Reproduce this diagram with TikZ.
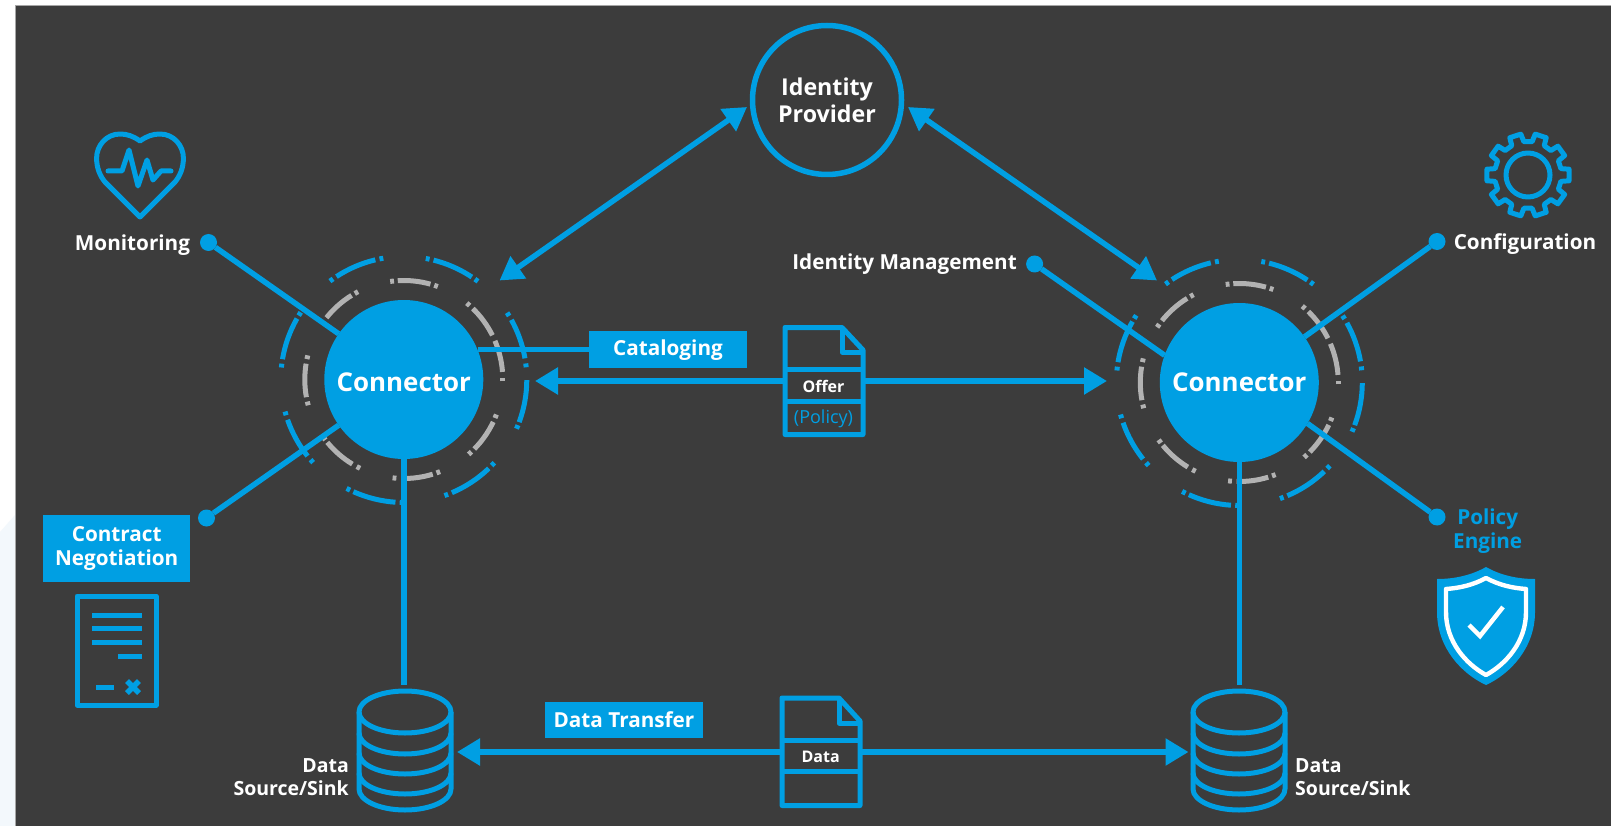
\documentclass[tikz,border=0pt]{standalone}
\usepackage{fontspec}
\setmainfont{Open Sans}
\usetikzlibrary{arrows.meta}
\definecolor{bgdark}{HTML}{3C3C3C}
\definecolor{idsblue}{HTML}{009FE3}
\definecolor{ringgray}{HTML}{B2B2B2}
\definecolor{palebg}{HTML}{F3F8FC}
\tikzset{
  wire/.style={draw=idsblue,line width=5.5pt},
  thin wire/.style={draw=idsblue,line width=5pt,line join=round},
  bothtips/.style={wire,{Triangle[length=23pt,width=26pt]}-{Triangle[length=23pt,width=26pt]}},
  conn/.style={circle,fill=idsblue,minimum size=159pt,inner sep=0pt,outer sep=0pt,text=white,font=\fontsize{25.9}{30}\selectfont\bfseries},
  dotnode/.style={circle,fill=idsblue,minimum size=17pt,inner sep=0pt,outer sep=0pt},
  lbl/.style={text=white,inner sep=0pt,align=center,font=\fontsize{20.7}{24.5}\selectfont\bfseries},
  dblbl/.style={text=white,inner sep=0pt,font=\fontsize{19.5}{23.5}\selectfont\bfseries},
  bluelbl/.style={lbl,text=idsblue},
  tag/.style={fill=idsblue,inner sep=0pt,outer sep=0pt,text=white,align=center,font=\fontsize{20.7}{24.5}\selectfont\bfseries},
  doclbl/.style={text=white,inner sep=0pt,font=\fontsize{16}{20}\selectfont\bfseries},
  arcb/.style={draw=idsblue,line width=5pt},
  arcg/.style={draw=ringgray,line width=5pt},
  docshape/.style={draw=idsblue,line width=5pt,line join=round,fill=bgdark},
}
\newcommand{\ringarcs}[1]{%
  \foreach \a/\b in {103.4/123.2,56.4/76,9.9/29,-20.3/-0.3,-67/-46.3,-114.2/-93.9,-160.9/-141.5,150.3/170.5}
    {\draw[arcb] ([shift={(\a:123pt)}]#1.center) arc[start angle=\a,end angle=\b,radius=123pt];}
  \foreach \t in {100.5,126,78.8,53.8,32,6.6,-22.7,-43.5,-69.8,-91,-116.8,-138.4,-164,173.5,147.8}
    {\draw[arcb] ([shift={({\t-0.9}:123pt)}]#1.center) arc[start angle=\t-0.9,end angle=\t+0.9,radius=123pt];}
  \foreach \a/\b in {74.4/93.5,26.5/45.8,4.4/23,-44.6/-25.4,-91.5/-73,-140.6/-121.3,170.8/190.3,121.8/141.4}
    {\draw[arcg] ([shift={(\a:99pt)}]#1.center) arc[start angle=\a,end angle=\b,radius=99pt];}
  \foreach \t in {96.8,71,49.4,0,-21.8,-48,-69.6,-95.4,-117.3,-143.5,-166,167,118.6,145}
    {\draw[arcg] ([shift={({\t-1.1}:99pt)}]#1.center) arc[start angle=\t-1.1,end angle=\t+1.1,radius=99pt];}
}
\newcommand{\database}[1]{%
  \begin{scope}[shift={(#1,0)}]
    \draw[thin wire] (0,712) ellipse[x radius=46pt,y radius=21pt];
    \draw[thin wire] (-46,712) -- (-46,789) arc[start angle=180,end angle=360,x radius=46pt,y radius=21pt] -- (46,712);
    \draw[thin wire] (-46,733) arc[start angle=180,end angle=360,x radius=46pt,y radius=21pt];
    \draw[thin wire] (-46,753) arc[start angle=180,end angle=360,x radius=46pt,y radius=21pt];
    \draw[thin wire] (-46,773) arc[start angle=180,end angle=360,x radius=46pt,y radius=21pt];
  \end{scope}
}
\begin{document}
\begin{tikzpicture}[x=1pt,y=-1pt]
\useasboundingbox (0,0) rectangle (1611,826);
\fill[white] (0,0) rectangle (1611,826);
\fill[palebg] (0,532) -- (15,515) -- (15,826) -- (0,826) -- cycle;
\fill[bgdark] (15.5,5) rectangle (1611,826);
\draw[draw=gray!70,line width=.8pt] (15.5,826) -- (15.5,5) -- (1611,5);

% main nodes
\node[circle,draw=idsblue,line width=5.5pt,minimum size=149pt,inner sep=0pt,align=center,text=white,font=\fontsize{23.2}{27}\selectfont\bfseries] (idp) at (827,100) {\raisebox{-1pt}{Identity}\\\raisebox{-1pt}{Provider}};
\node[conn,text height=23pt,text depth=0pt] (c1) at (403.8,379.5) {Connector};
\node[conn,text height=17pt,text depth=0pt] (c2) at (1239.3,382.5) {Connector};
\ringarcs{c1}
\ringarcs{c2}

% dots and labels
\node[dotnode] (dmon) at (208.5,242.5) {};
\node[lbl] (lmon) at (132.5,245.5) {Monitoring};
\node[dotnode] (dneg) at (206.5,518) {};
\node[tag,minimum width=147pt,minimum height=67pt] (lneg) at (116.7,548.5) {Contract\\Negotiation};
\node[dotnode] (dim) at (1034.6,264) {};
\node[lbl] (lim) at (904.6,264) {Identity Management};
\node[dotnode] (dcfg) at (1437,241.5) {};
\node[lbl] (lcfg) at (1525,244.5) {Configuration};
\node[dotnode] (dpol) at (1437,517) {};
\node[bluelbl] (lpol) at (1487.7,531) {Policy\\Engine};
\node[tag,minimum width=158pt,minimum height=37pt,text height=17.7pt,text depth=5pt] (lcat) at (668,349.5) {Cataloging};
\node[tag,minimum width=158.5pt,minimum height=36pt] (ltr) at (624,720) {Data Transfer};

% connector lines
\draw[wire] (dmon) -- (c1);
\draw[wire] (dneg) -- (c1);
\draw[wire] (c1.22.5) -- (lcat.west |- c1.22.5);
\draw[wire] (dim) -- (c2.160.6);
\draw[wire] (dcfg) -- (c2.35);
\draw[wire] (dpol) -- (c2.-31);

% database links
\coordinate (db1top) at (403.8,685);
\coordinate (db2top) at (1239.3,685);
\draw[wire] (c1.south) -- (db1top);
\draw[wire] (c2.south) -- (db2top);

% arrows
\coordinate (idpL) at (747,107);
\coordinate (idpR) at (908,107);
\coordinate (c1R) at (499.5,280.5);
\coordinate (c2L) at (1157,280.5);
\draw[bothtips] (c1R) -- (idpL);
\draw[bothtips] (idpR) -- (c2L);
\coordinate (offL) at (535,381);
\coordinate (offR) at (1107,381);
\draw[bothtips] (offL) -- (offR);
\coordinate (datL) at (457,752);
\coordinate (datR) at (1188.5,752);
\draw[bothtips] (datL) -- (datR);

% offer document
\draw[docshape] (785,327.5) -- (842,327.5) -- (863,350) -- (863,434.5) -- (785,434.5) -- cycle;
\draw[thin wire] (842,327.5) -- (842,352) -- (863,352);
\draw[thin wire] (785,369) -- (863,369);
\draw[thin wire] (785,401) -- (863,401);
\node[doclbl] (toffer) at (823.5,386.5) {Offer};
\node[text=idsblue,inner sep=0pt,font=\fontsize{18}{22}\selectfont] (tpolicy) at (823.5,419) {(Policy)};

% data document
\draw[docshape] (782,698) -- (839,698) -- (860,721) -- (860,805.5) -- (782,805.5) -- cycle;
\draw[thin wire] (839,698) -- (839,723) -- (860,723);
\draw[thin wire] (782,740) -- (860,740);
\draw[thin wire] (782,771) -- (860,771);
\node[doclbl] (tdata) at (820.7,757) {Data};

% databases
\database{405}
\database{1239}
\node[dblbl,align=right,anchor=east] (ldb1) at (349,777) {Data\\Source/Sink};
\node[dblbl,align=left,anchor=west] (ldb2) at (1295,777) {Data\\Source/Sink};

% contract icon
\draw[thin wire] (77,596) rectangle (156,705);
\foreach \yy in {615,628,642} {\draw[thin wire] (92,\yy) -- (142,\yy);}
\draw[thin wire] (118,656) -- (142,656);
\draw[thin wire] (96,687) -- (114,687);
\draw[draw=idsblue,line width=5.5pt] (127,681) -- (139,693) (127,693) -- (139,681);

% heart icon
\draw[thin wire] (140,141) .. controls (133,136) and (127,134) .. (120,134) .. controls (106,134) and (96.6,146) .. (96.6,158) .. controls (96.6,168) and (100,176) .. (105,182) -- (140,217) -- (175,182) .. controls (180,176) and (183.4,168) .. (183.4,158) .. controls (183.4,146) and (174,134) .. (160,134) .. controls (153,134) and (147,136) .. (140,141) -- cycle;
\draw[thin wire,line cap=round] (108,171) -- (122,171) -- (129,150) -- (138,186) -- (147,160) -- (153,180) -- (161,171) -- (171,171);

% gear icon
\begin{scope}[shift={(1528,175)}]
  \draw[thin wire] (72-11:33.5pt) \foreach \k in {0,...,9} { -- ({72+36*\k-11}:33.5pt) -- ({72+36*\k-8}:41.5pt) -- ({72+36*\k+8}:41.5pt) -- ({72+36*\k+11}:33.5pt)} -- cycle;
  \draw[thin wire] (0,0) circle[radius=22pt];
\end{scope}

% shield icon
\fill[idsblue] (1486,567) .. controls (1472,575) and (1455,579) .. (1437,579) -- (1437,612) .. controls (1437,648) and (1462,674) .. (1486,685) .. controls (1510,674) and (1535,648) .. (1535,612) -- (1535,579) .. controls (1517,579) and (1500,575) .. (1486,567) -- cycle;
\draw[draw=white,line width=4.4pt,line join=round] (1486,578) .. controls (1473,585) and (1460,588) .. (1446,589) -- (1446,612) .. controls (1446,642) and (1466,664) .. (1486,675) .. controls (1506,664) and (1526,642) .. (1526,612) -- (1526,589) .. controls (1512,588) and (1499,585) .. (1486,578) -- cycle;
\draw[draw=white,line width=4.5pt] (1469,625) -- (1480,636) -- (1503,607);
\end{tikzpicture}
\end{document}
